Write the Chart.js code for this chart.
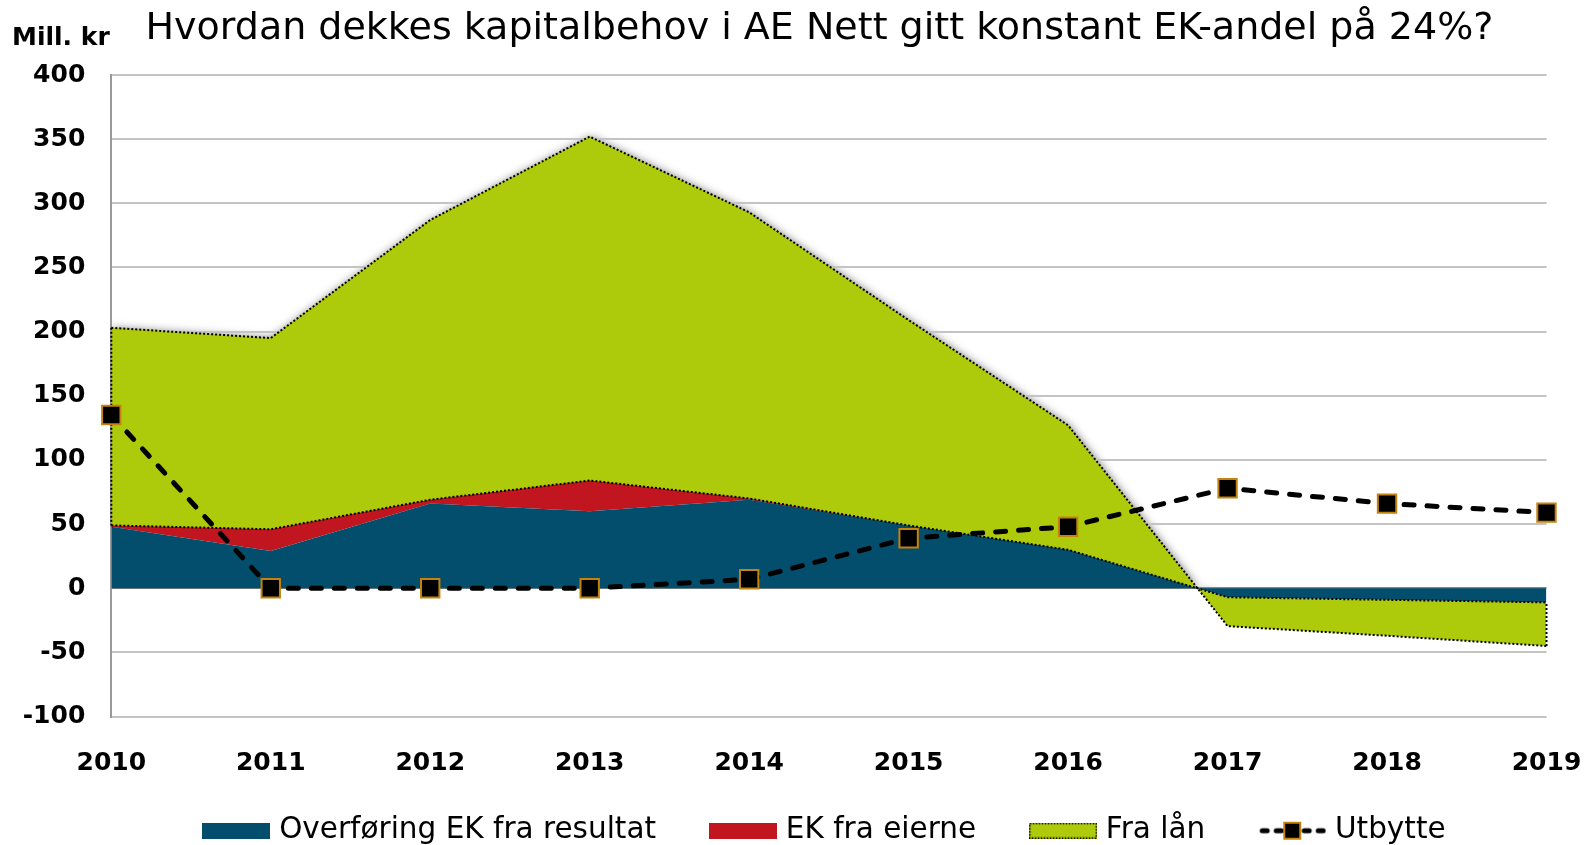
<!DOCTYPE html>
<html><head><meta charset="utf-8">
<script src="https://cdn.jsdelivr.net/npm/chart.js@4.4.1/dist/chart.umd.min.js"></script>
<style>html,body{margin:0;padding:0;background:#fff;overflow:hidden}canvas{display:block}</style>
</head><body>
<canvas id="c" width="1587" height="845"></canvas>
<script>
// ---- data ----
const titleText = 'Hvordan dekkes kapitalbehov i AE Nett gitt konstant EK-andel på 24%?';
const unitText = 'Mill. kr';
const years = ['2010','2011','2012','2013','2014','2015','2016','2017','2018','2019'];
const overforingEK = [48, 29, 66, 60, 69, 49, 30, -7, -9, -11];
const ekFraEierne = [1, 17, 3, 24, 1, 0, 0, 0, 0, 0];
const fraLaan = [154, 149, 218, 268, 223, 160, 97, -22.5, -28, -34];
const utbytte = [135, 0, 0, 0, 7, 39, 48, 78, 66, 59];
const seriesNames = ['Overføring EK fra resultat', 'EK fra eierne', 'Fra lån', 'Utbytte'];
const yMin = -100, yMax = 400, yStep = 50;

// ---- styles ----
const BLUE = '#034D6D', RED = '#C1151F', GREEN = '#AECB0B', MK = '#C4820F';
const FONT = '"DejaVu Sans", Verdana, sans-serif';
Chart.defaults.font.family = FONT;
Chart.defaults.color = '#000';

function swatch(kind) {
  const c = document.createElement('canvas');
  if (kind === 'line') {
    c.width = 68; c.height = 22;
    const x = c.getContext('2d');
    x.strokeStyle = '#000'; x.lineWidth = 5; x.lineCap = 'round'; x.setLineDash([5, 9]);
    x.beginPath(); x.moveTo(4, 11); x.lineTo(66, 11); x.stroke();
    x.setLineDash([]);
    x.fillStyle = '#000'; x.fillRect(26, 3, 16, 16);
    x.strokeStyle = MK; x.lineWidth = 2; x.strokeRect(26, 3, 16, 16);
    return c;
  }
  c.width = 68; c.height = 16;
  const x = c.getContext('2d');
  x.fillStyle = kind; x.fillRect(0, 0, 68, 16);
  if (kind === GREEN) {
    x.strokeStyle = '#000'; x.lineWidth = 1.5; x.setLineDash([1.5, 1.5]);
    x.strokeRect(0.75, 0.75, 66.5, 14.5);
  }
  return c;
}
const swatches = [swatch(BLUE), swatch(RED), swatch(GREEN), swatch('line')];

const decor = {
  id: 'decor',
  afterLayout(chart) {
    const lg = chart.legend;
    if (lg) { lg.left = 107.5; lg.top = 757; lg.bottom = lg.top + lg.height; }
  },
  beforeDraw(chart) {
    const g = chart.getDatasetMeta(2).data, r = chart.getDatasetMeta(1).data;
    if (!g.length) return;
    const {ctx, chartArea} = chart;
    const y0 = chart.scales.y.getPixelForValue(0);
    ctx.save();
    ctx.beginPath();
    ctx.rect(chartArea.left, chartArea.top - 30, chartArea.right - chartArea.left + 30, y0 - chartArea.top + 30);
    ctx.clip();
    ctx.beginPath();
    g.forEach((p, i) => i ? ctx.lineTo(p.x, p.y) : ctx.moveTo(p.x, p.y));
    for (let i = r.length - 1; i >= 0; i--) ctx.lineTo(r[i].x, r[i].y);
    ctx.closePath();
    ctx.shadowColor = 'rgba(0,0,0,0.6)'; ctx.shadowBlur = 10; ctx.shadowOffsetX = 1; ctx.shadowOffsetY = 1;
    ctx.fillStyle = GREEN; ctx.fill();
    ctx.restore();
  },
  afterDatasetDraw(chart, args) {
    if (args.index !== 2) return;
    const g = chart.getDatasetMeta(2).data, r = chart.getDatasetMeta(1).data;
    const ctx = chart.ctx;
    ctx.save();
    ctx.strokeStyle = '#000'; ctx.lineWidth = 2; ctx.setLineDash([2, 2]);
    [0, g.length - 1].forEach(i => {
      ctx.beginPath(); ctx.moveTo(g[i].x, g[i].y); ctx.lineTo(r[i].x, r[i].y); ctx.stroke();
    });
    ctx.restore();
  },
  afterDraw(chart) {
    const ctx = chart.ctx;
    ctx.save();
    ctx.fillStyle = '#000';
    ctx.textBaseline = 'alphabetic';
    ctx.textAlign = 'center';
    ctx.font = '38px ' + FONT;
    ctx.fillText(titleText, 819.5, 39);
    ctx.textAlign = 'left';
    ctx.font = 'bold 25px ' + FONT;
    ctx.fillText(unitText, 12, 45);
    ctx.restore();
  }
};

new Chart(document.getElementById('c'), {
  type: 'line',
  data: {
    labels: years,
    datasets: [
      { label: seriesNames[0], data: overforingEK, stack: 'area',
        backgroundColor: BLUE, borderColor: 'transparent', borderWidth: 0, fill: 'origin', pointRadius: 0, tension: 0 },
      { label: seriesNames[1], data: ekFraEierne, stack: 'area',
        backgroundColor: RED, borderColor: '#000', borderWidth: 2, borderDash: [2, 2], fill: '-1', pointRadius: 0, tension: 0 },
      { label: seriesNames[2], data: fraLaan, stack: 'area',
        backgroundColor: GREEN, borderColor: '#000', borderWidth: 2, borderDash: [2, 2], fill: '-1', pointRadius: 0, tension: 0 },
      { label: seriesNames[3], data: utbytte, stack: 'line', order: -1, clip: false,
        borderColor: '#000', borderWidth: 5, borderDash: [10, 13], borderCapStyle: 'round', fill: false, tension: 0,
        pointStyle: 'rect', pointRadius: 13, pointBackgroundColor: '#000', pointBorderColor: MK, pointBorderWidth: 2 }
    ]
  },
  options: {
    responsive: false,
    animation: false,
    events: [],
    layout: { padding: { left: 0, right: 40.5, top: 75, bottom: -32.1 } },
    scales: {
      x: {
        type: 'category',
        offset: false,
        grid: { display: false, drawTicks: false },
        border: { display: false },
        ticks: { font: { size: 25, weight: 'bold' }, color: '#000', padding: 32, maxRotation: 0, autoSkip: false },
        afterFit(s) { s.height = 62; s.paddingLeft = 0; s.paddingRight = 0; }
      },
      y: {
        stacked: true,
        min: yMin, max: yMax,
        grid: {
          drawTicks: false,
          lineWidth: 2,
          color: (c) => c.tick && c.tick.value === 0 ? '#868686' : '#C4C4C4'
        },
        border: { display: true, color: '#9A9A9A', width: 2 },
        ticks: { stepSize: yStep, font: { size: 25, weight: 'bold' }, color: '#000', padding: 26 },
        afterFit(s) { s.width = 111.3; }
      }
    },
    plugins: {
      title: { display: false },
      tooltip: { enabled: false },
      filler: { drawTime: 'beforeDatasetsDraw' },
      legend: {
        position: 'bottom',
        labels: {
          usePointStyle: true,
          pointStyleWidth: 56,
          boxHeight: 16,
          padding: 59,
          color: '#000',
          font: { size: 29.5 },
          generateLabels: () => seriesNames.map((t, i) => ({
            text: t, pointStyle: swatches[i], fillStyle: 'rgba(0,0,0,0)', strokeStyle: 'rgba(0,0,0,0)',
            lineWidth: 0, hidden: false, datasetIndex: i, fontColor: '#000'
          }))
        }
      }
    }
  },
  plugins: [decor]
});
</script>
</body></html>
